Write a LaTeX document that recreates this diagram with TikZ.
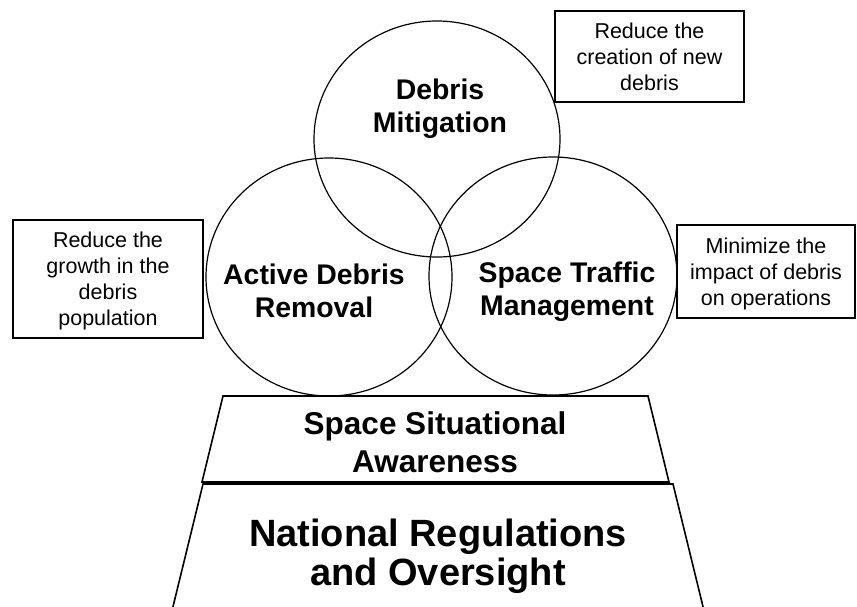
\documentclass[tikz,border=0pt]{standalone}
\usepackage{fontspec}
\setmainfont{Liberation Sans}
\usepackage{tikz}

\begin{document}
\begin{tikzpicture}[x=1pt,y=-1pt,
  ring/.style={black, line width=1.2pt},
  tier/.style={black, line width=1.6pt, line join=miter},
  ringlabel/.style={align=center, inner sep=0pt, font=\bfseries\fontsize{28.4}{33}\selectfont},
  goalbox/.style={draw, line width=1.3pt, inner sep=0pt, align=center, font=\fontsize{21.5}{26}\selectfont}]

\useasboundingbox (0,0) rectangle (857,606);
\clip (0,0) rectangle (857,606);

% the three rings
\draw[ring] (437,139) ellipse [x radius=123pt, y radius=118pt];
\draw[ring] (329,277) ellipse [x radius=123pt, y radius=119pt];
\draw[ring] (553,276) ellipse [x radius=124pt, y radius=119pt];

% the two layers underneath
\draw[tier] (223,396) -- (648,396) -- (669,482) -- (202,482) -- cycle;
\draw[tier] (203,484) -- (673,484) -- (707,623) -- (169,623) -- cycle;

\node[ringlabel] (mitigation) at (440,109) {Debris\\Mitigation};
\node[ringlabel] (removal) at (314,291) {Active Debris\\Removal};
\node[ringlabel] (traffic) at (567,292) {Space Traffic\\Management};

\node[align=center, inner sep=0pt, font=\bfseries\fontsize{31.5}{38}\selectfont] (ssa) at (435,442) {Space Situational\\Awareness};
\node[align=center, inner sep=0pt, font=\bfseries\fontsize{38}{39}\selectfont] (regulations) at (438,556) {National Regulations\\and Oversight};

% goals
\node[goalbox, minimum width=189pt, minimum height=91pt] (mitigationgoal) at (649.5,56.5) {Reduce the\\creation of new\\debris};
\node[goalbox, text depth=0pt, minimum width=190pt, minimum height=118pt] (removalgoal) at (108,279) {Reduce the\\growth in the\\debris\\population};
\node[goalbox, text depth=0pt, minimum width=178pt, minimum height=93pt] (trafficgoal) at (766,271.5) {Minimize the\\impact of debris\\on operations};

\end{tikzpicture}
\end{document}
